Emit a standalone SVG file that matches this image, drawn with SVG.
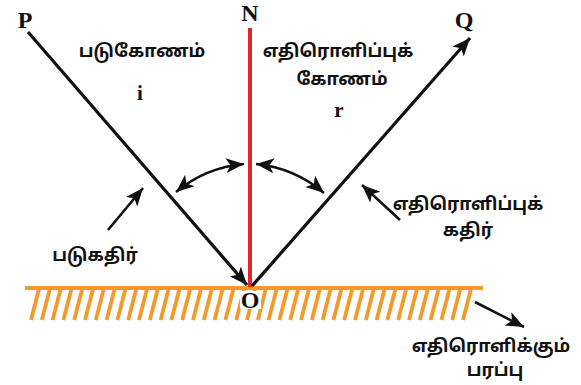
<svg xmlns="http://www.w3.org/2000/svg" width="581" height="385" viewBox="0 0 581 385">
<style>
.lbl{font-family:"Liberation Serif","Times New Roman",serif;font-weight:bold;font-size:24px;fill:#111;text-anchor:middle}
.sym{font-family:"Liberation Serif","Times New Roman",serif;font-weight:bold;font-size:21px;fill:#111;text-anchor:middle}
.ta{font-family:"Noto Sans Tamil","Latha","Noto Sans",sans-serif;font-weight:bold;font-size:17.8px;fill:#111;text-anchor:middle}
.ray{stroke:#111;stroke-width:3.2;fill:none}
.ptr{stroke:#111;stroke-width:2.6;fill:none}
</style>
<defs>
<marker id="ah" markerUnits="userSpaceOnUse" markerWidth="19" markerHeight="15" refX="18" refY="7.5" orient="auto-start-reverse">
<path d="M0,0 L18,7.5 L0,15 L4.5,7.5 Z" fill="#111"/>
</marker>
</defs>
<g id="surface">
<line x1="25" y1="288" x2="483" y2="288" stroke="#F39A2B" stroke-width="4"/>
<path stroke="#F39A2B" stroke-width="3.8" fill="none" d="M39 289l-8 31M49.8 289l-8 31M60.6 289l-8 31M71.4 289l-8 31M82.2 289l-8 31M93 289l-8 31M103.8 289l-8 31M114.6 289l-8 31M125.4 289l-8 31M136.2 289l-8 31M147 289l-8 31M157.8 289l-8 31M168.6 289l-8 31M179.4 289l-8 31M190.2 289l-8 31M201 289l-8 31M211.8 289l-8 31M222.6 289l-8 31M233.4 289l-8 31M244.2 289l-8 31M255 289l-8 31M265.8 289l-8 31M276.6 289l-8 31M287.4 289l-8 31M298.2 289l-8 31M309 289l-8 31M319.8 289l-8 31M330.6 289l-8 31M341.4 289l-8 31M352.2 289l-8 31M363 289l-8 31M373.8 289l-8 31M384.6 289l-8 31M395.4 289l-8 31M406.2 289l-8 31M417 289l-8 31M427.8 289l-8 31M438.6 289l-8 31M449.4 289l-8 31M460.2 289l-8 31M471 289l-8 31"/>
</g>
<g id="normal">
<line x1="250" y1="28" x2="250" y2="287" stroke="#E0262A" stroke-width="4"/>
</g>
<g id="connectors">
<line class="ray" x1="28" y1="32" x2="247" y2="285" marker-end="url(#ah)"/>
<line class="ray" x1="252" y1="286" x2="470" y2="38" marker-end="url(#ah)"/>
<path class="ptr" d="M244 164 A124 124 0 0 0 176 192" marker-start="url(#ah)" marker-end="url(#ah)"/>
<path class="ptr" d="M256 164 A124 124 0 0 1 324 193" marker-start="url(#ah)" marker-end="url(#ah)"/>
<line class="ptr" x1="108" y1="230" x2="143" y2="188" marker-end="url(#ah)"/>
<line class="ptr" x1="400" y1="220" x2="362" y2="185" marker-end="url(#ah)"/>
<line class="ptr" x1="475" y1="302" x2="524" y2="327" marker-end="url(#ah)"/>
</g>
<g id="labels">
<text class="lbl" x="25" y="28">P</text>
<text class="lbl" x="250" y="21">N</text>
<text class="lbl" x="464" y="28">Q</text>
<rect x="240" y="291" width="21" height="18" fill="#fff"/>
<text class="lbl" x="250" y="308">O</text>
<text class="sym" x="140" y="100">i</text>
<text class="sym" x="339" y="117">r</text>
</g>
<g id="text-incident-angle"><text class="ta" x="142" y="57">படுகோணம்</text></g>
<g id="text-reflected-angle"><text class="ta" x="338" y="57">எதிரொளிப்புக்</text><text class="ta" x="342" y="85">கோணம்</text></g>
<g id="text-incident-ray"><text class="ta" x="95" y="261">படுகதிர்</text></g>
<g id="text-reflected-ray"><text class="ta" x="468" y="210">எதிரொளிப்புக்</text><text class="ta" x="468" y="236">கதிர்</text></g>
<g id="text-surface"><text class="ta" x="491" y="352">எதிரொளிக்கும்</text><text class="ta" x="495" y="376">பரப்பு</text></g>
</svg>
